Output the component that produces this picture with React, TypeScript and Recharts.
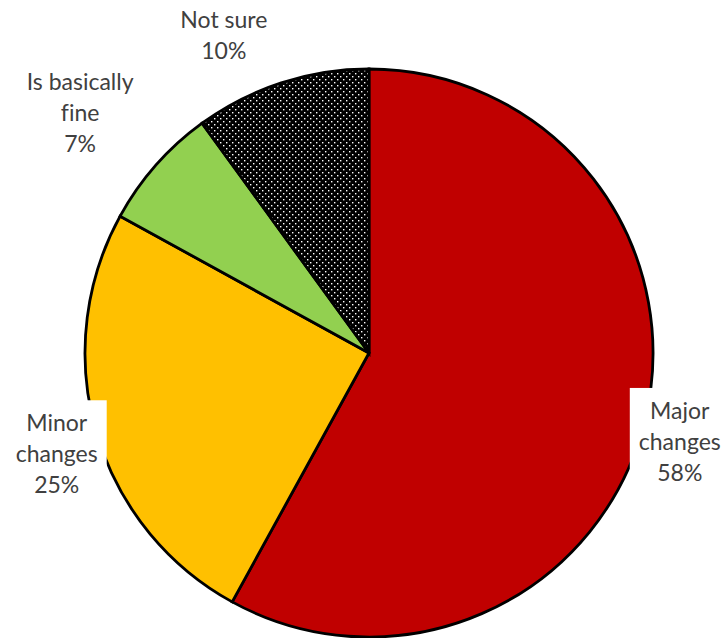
import React from "react";
import { PieChart, Pie, Cell } from "recharts";

const categories = ["Major changes", "Minor changes", "Is basically fine", "Not sure"];
const values = [58, 25, 7, 10];
const labelLines = [
  ["Major", "changes"],
  ["Minor", "changes"],
  ["Is basically", "fine"],
  ["Not sure"],
];
const fills = ["#C00000", "#FFC000", "#92D050", "url(#dots)"];
// label placement style: radial distance and angular nudge (degrees)
const labelLayout = [
  { r: 323, da: -1.4, box: true },
  { r: 328, da: 1.6, box: true },
  { r: 376, da: 1.6, box: false },
  { r: 350, da: 6.5, box: false },
];

const data = categories.map((name, i) => ({ name, value: values[i] }));
const RAD = Math.PI / 180;
const LH = 31;

const renderLabel = (props: any) => {
  const { cx, cy, midAngle, index, percent } = props;
  const lay = labelLayout[index];
  const a = (midAngle + lay.da) * RAD;
  const x = cx + lay.r * Math.cos(a);
  const y = cy - lay.r * Math.sin(a);
  const lines = [...labelLines[index], `${Math.round(percent * 100)}%`];
  const n = lines.length;
  const top = y - ((n - 1) * LH) / 2;
  return (
    <g key={`lbl-${index}`}>
      {lay.box && (
        <rect x={x - 50} y={top - 22} width={100} height={(n - 1) * LH + 44} fill="#fff" />
      )}
      <text
        textAnchor="middle"
        fill="#404040"
        fontFamily="Lato, 'Open Sans', sans-serif"
        fontSize={23}
        style={{ fontVariantLigatures: "none" }}
      >
        {lines.map((l, k) => (
          <tspan key={k} x={x} y={top + k * LH} dominantBaseline="central">
            {l}
          </tspan>
        ))}
      </text>
    </g>
  );
};

export default function App() {
  return (
    <div style={{ position: "absolute", left: 0, top: 0, width: 728, height: 638, background: "#fff" }}>
      <PieChart width={728} height={638} margin={{ top: 0, right: 0, bottom: 0, left: 0 }}>
        <defs>
          <pattern id="dots" width="6" height="6" patternUnits="userSpaceOnUse">
            <rect width="6" height="6" fill="#000" />
            <rect x="1" y="1" width="1.4" height="1.4" fill="#fff" />
            <rect x="4" y="4" width="1.4" height="1.4" fill="#fff" />
          </pattern>
        </defs>
        <Pie
          data={data}
          dataKey="value"
          nameKey="name"
          cx={369}
          cy={353}
          outerRadius={284}
          startAngle={90}
          endAngle={-270}
          stroke="#000"
          strokeWidth={2.8}
          label={renderLabel}
          labelLine={false}
          isAnimationActive={false}
        >
          {data.map((d, i) => (
            <Cell key={d.name} fill={fills[i]} />
          ))}
        </Pie>
      </PieChart>
    </div>
  );
}
